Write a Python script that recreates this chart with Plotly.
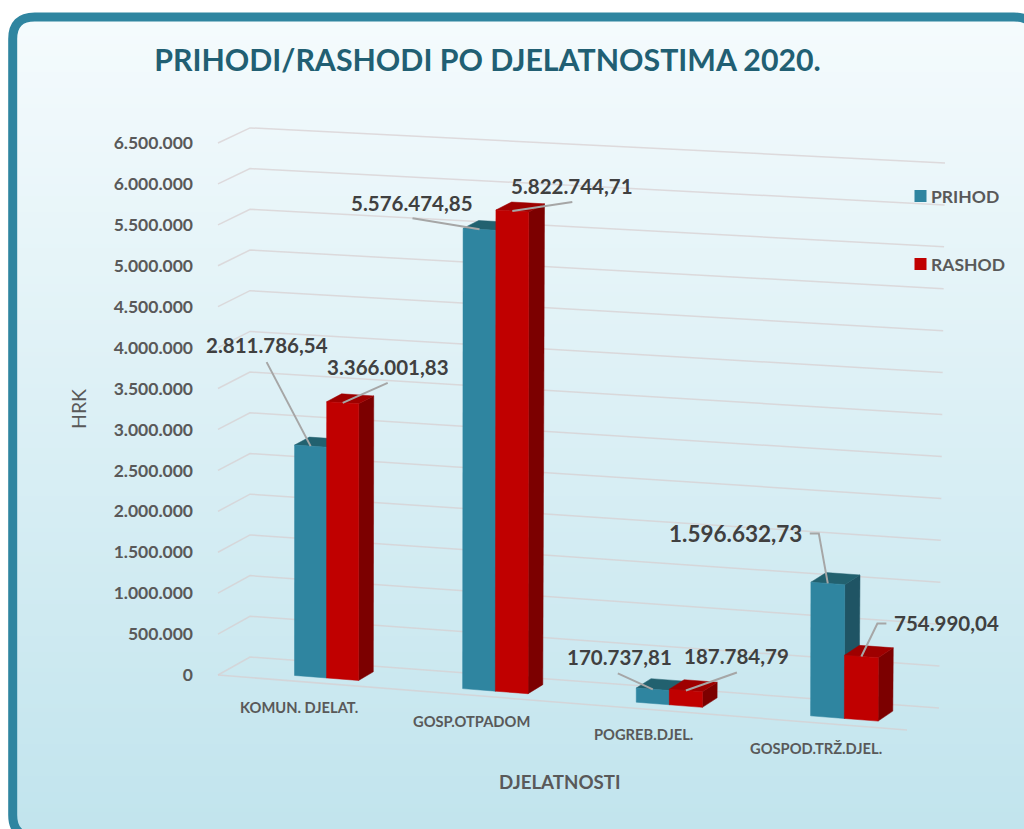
import plotly.graph_objects as go

# ---------- data ----------
categories = ["KOMUN. DJELAT.", "GOSP.OTPADOM", "POGREB.DJEL.", "GOSPOD.TRŽ.DJEL."]
prihod = [2811786.54, 5576474.85, 170737.81, 1596632.73]
rashod = [3366001.83, 5822744.71, 187784.79, 754990.04]
tick_values = [0, 500000, 1000000, 1500000, 2000000, 2500000, 3000000,
               3500000, 4000000, 4500000, 5000000, 5500000, 6000000, 6500000]
title_text = "PRIHODI/RASHODI PO DJELATNOSTIMA 2020."
y_title = "HRK"
x_title = "DJELATNOSTI"
series_names = ["PRIHOD", "RASHOD"]

# ---------- style ----------
W, H = 1024, 829
FONT = "Lato"
TEAL = "#2F85A0"
TEAL_TOP = "#22616F"
TEAL_SIDE = "#1F5464"
RED = "#C00000"
RED_TOP = "#9E0000"
RED_SIDE = "#7C0000"
GRID = "rgba(215,205,207,0.7)"
LEADER = "#A6A6A6"
TXT = "#595959"
LABEL = "#404040"

# oblique projection of the 3-D chart box onto the 2-D axes
Y0_PX = 675.0
PX_PER_UNIT = 81.85e-6


def to_y(px):
    return (Y0_PX - px) / PX_PER_UNIT


def project(u, d, v):
    """u along categories (0-1), d depth (0 front - 1 back), v value -> pixel-like x,y"""
    m = v / 1e6
    x = 218 + 32 * d + u * (689 + 6 * d * m / 6.5)
    front = 675 + 55 * u - (81.85 + 2.3 * u) * m
    back = 657 + 51 * u - (81.4 + 2.45 * u) * m
    return x, (1 - d) * front + d * back


def fmt(v, dec):
    s = f"{v:,.{dec}f}"
    return s.replace(",", "#").replace(".", ",").replace("#", ".")


fig = go.Figure()


def poly(points, color):
    xs = [p[0] for p in points] + [points[0][0]]
    ys = [to_y(p[1]) for p in points] + [to_y(points[0][1])]
    fig.add_trace(go.Scatter(x=xs, y=ys, mode="lines", fill="toself", fillcolor=color,
                             line=dict(color=color, width=0.5), hoverinfo="skip",
                             showlegend=False))


# gridlines on the back and side walls
for v in tick_values:
    pts = [project(0, 0, v), project(0, 1, v), project(1, 1, v)]
    fig.add_trace(go.Scatter(x=[p[0] for p in pts], y=[to_y(p[1]) for p in pts], mode="lines",
                             line=dict(color=GRID, width=1.5), hoverinfo="skip", showlegend=False))
pts = [project(0, 0, 0), project(1, 0, 0)]
fig.add_trace(go.Scatter(x=[p[0] for p in pts], y=[to_y(p[1]) for p in pts], mode="lines",
                         line=dict(color=GRID, width=1.5), hoverinfo="skip", showlegend=False))

# bars: layout fractions along the category axis (slightly widening with perspective)
D0, D1 = 0.27, 0.73
n = len(categories)
centers = [0.145, 0.39, 0.6425, 0.8965]
widths = [0.0465, 0.0475, 0.048, 0.049]
slots = [(i + 0.58) / n for i in range(n)]


def bar(u0, u1, v, front, top, side):
    poly([project(u1, D0, 0), project(u1, D1, 0), project(u1, D1, v), project(u1, D0, v)], side)
    poly([project(u0, D0, v), project(u0, D1, v), project(u1, D1, v), project(u1, D0, v)], top)
    poly([project(u0, D0, 0), project(u1, D0, 0), project(u1, D0, v), project(u0, D0, v)], front)


for i, c in enumerate(centers):
    bar(c - widths[i], c, prihod[i], TEAL, TEAL_TOP, TEAL_SIDE)
    bar(c, c + widths[i], rashod[i], RED, RED_TOP, RED_SIDE)

# data labels and leader lines; offsets in px from the bar's front top edge:
# (label centre, leader polyline from the label side, font size)
prihod_offsets = [((-43.5, -101), [(-44, -84)], 20.5),
                  ((-68, -26), [(-67, -11)], 20.5),
                  ((-33, -32), [(-35, -16)], 20.5),
                  ((-92, -50), [(-18, -50), (-9, -50)], 22.5)]
rashod_offsets = [((45, -36), [(45, -20)], 20.5),
                  ((60, -25), [(60, -9)], 20.5),
                  ((51, -34), [(51, -18)], 20.5),
                  ((85, -33), [(25, -33), (16, -33)], 20.5)]
annotations = []
for vals, offs, sign in ((prihod, prihod_offsets, -1), (rashod, rashod_offsets, 1)):
    for i, c in enumerate(centers):
        ax, ay = project(c + sign * widths[i] / 2, D0, vals[i])
        (lx, ly), way, fs = offs[i]
        lxs = [ax + p[0] for p in way] + [ax]
        lys = [to_y(ay + p[1]) for p in way] + [to_y(ay)]
        fig.add_trace(go.Scatter(x=lxs, y=lys, mode="lines", line=dict(color=LEADER, width=2),
                                 hoverinfo="skip", showlegend=False))
        annotations.append(dict(x=ax + lx, y=to_y(ay + ly), xref="x", yref="y", text=fmt(vals[i], 2),
                                showarrow=False, xanchor="center", yanchor="middle",
                                font=dict(family=FONT, size=fs, color=LABEL, weight=700)))

# category labels, below the front floor edge
for c, name in zip(slots, categories):
    px, py = project(c, 0, 0)
    annotations.append(dict(x=px - 19, y=to_y(py + 24), xref="x", yref="y", text=name, showarrow=False,
                            xanchor="center", yanchor="middle",
                            font=dict(family=FONT, size=14.7, color=TXT, weight=700)))
annotations.append(dict(x=560 / W, y=1 - 782 / H, xref="paper", yref="paper", text=x_title,
                        showarrow=False, xanchor="center", yanchor="middle",
                        font=dict(family=FONT, size=18.7, color=TXT, weight=700)))
annotations.append(dict(x=78.5 / W, y=1 - 409.5 / H, xref="paper", yref="paper", text=y_title, textangle=-90,
                        showarrow=False, xanchor="center", yanchor="middle",
                        font=dict(family=FONT, size=19.5, color=TXT)))

# legend keys
for name, color, yk in zip(series_names, (TEAL, RED), (196, 264)):
    fig.add_trace(go.Scatter(x=[920.5], y=[to_y(yk)], mode="markers",
                             marker=dict(symbol="square", size=12, color=color),
                             hoverinfo="skip", showlegend=False))
    annotations.append(dict(x=929, y=to_y(yk), xref="x", yref="y", text=name, showarrow=False,
                            xanchor="left", yanchor="middle",
                            font=dict(family=FONT, size=17.5, color=TXT, weight=700)))


# ---------- frame and background ----------
def P(x, y):
    return f"{x / W:.5f},{1 - y / H:.5f}"


def rounded(x0, y0, x1, y1, r):
    return (f"M{P(x0 + r, y0)} L{P(x1 - r, y0)} Q{P(x1, y0)} {P(x1, y0 + r)} "
            f"L{P(x1, y1 - r)} Q{P(x1, y1)} {P(x1 - r, y1)} L{P(x0 + r, y1)} "
            f"Q{P(x0, y1)} {P(x0, y1 - r)} L{P(x0, y0 + r)} Q{P(x0, y0)} {P(x0 + r, y0)} Z")


def rounded_rev(x0, y0, x1, y1, r):
    return (f"M{P(x0 + r, y0)} Q{P(x0, y0)} {P(x0, y0 + r)} L{P(x0, y1 - r)} "
            f"Q{P(x0, y1)} {P(x0 + r, y1)} L{P(x1 - r, y1)} Q{P(x1, y1)} {P(x1, y1 - r)} "
            f"L{P(x1, y0 + r)} Q{P(x1, y0)} {P(x1 - r, y0)} Z")


shapes = []
TOP_RGB, BOT_RGB = (245, 251, 253), (193, 228, 237)
STEP = 4
for y in range(16, H + STEP, STEP):
    t = (y - 16) / (H - 16)
    col = "rgb(" + ",".join(str(round(a + (b - a) * t)) for a, b in zip(TOP_RGB, BOT_RGB)) + ")"
    shapes.append(dict(type="rect", xref="paper", yref="paper", x0=0, x1=1, y0=1 - y / H,
                       y1=max(0, 1 - (y + STEP) / H), fillcolor=col, line_width=0, layer="below"))
FX0, FY0, FX1, FY1, FR = 12.7, 17, 1036, 837, 22
outer = f"M{P(0, 0)} L{P(W, 0)} L{P(W, H)} L{P(0, H)} Z "
shapes.append(dict(type="path", xref="paper", yref="paper", path=outer + rounded_rev(FX0, FY0, FX1, FY1, FR),
                   fillcolor="white", line_width=0, layer="below"))
shapes.append(dict(type="path", xref="paper", yref="paper", path=rounded(FX0, FY0, FX1, FY1, FR),
                   fillcolor="rgba(0,0,0,0)", line=dict(color=TEAL, width=9), layer="below"))

fig.update_layout(
    width=W, height=H, margin=dict(l=0, r=0, t=0, b=0), autosize=False,
    paper_bgcolor="white", plot_bgcolor="rgba(0,0,0,0)",
    showlegend=False, shapes=shapes, annotations=annotations,
    title=dict(text=title_text, x=487.5 / W, y=1 - 60 / H, xref="paper", yref="paper",
               xanchor="center", yanchor="middle",
               font=dict(family=FONT, size=30.3, color="#215F73", weight=700)),
    xaxis=dict(range=[0, W], visible=False, fixedrange=True),
    yaxis=dict(range=[to_y(H), to_y(0)], anchor="free", position=193 / W, showgrid=False,
               zeroline=False, showline=False, ticks="", tickmode="array",
               tickvals=tick_values, ticktext=[fmt(v, 0) for v in tick_values],
               tickfont=dict(family=FONT, size=17.5, color=TXT, weight=700),
               fixedrange=True),
)
fig.write_html("out.html", config={"displayModeBar": False},
               post_script="document.body.style.margin='0';document.documentElement.style.overflow='hidden';")
